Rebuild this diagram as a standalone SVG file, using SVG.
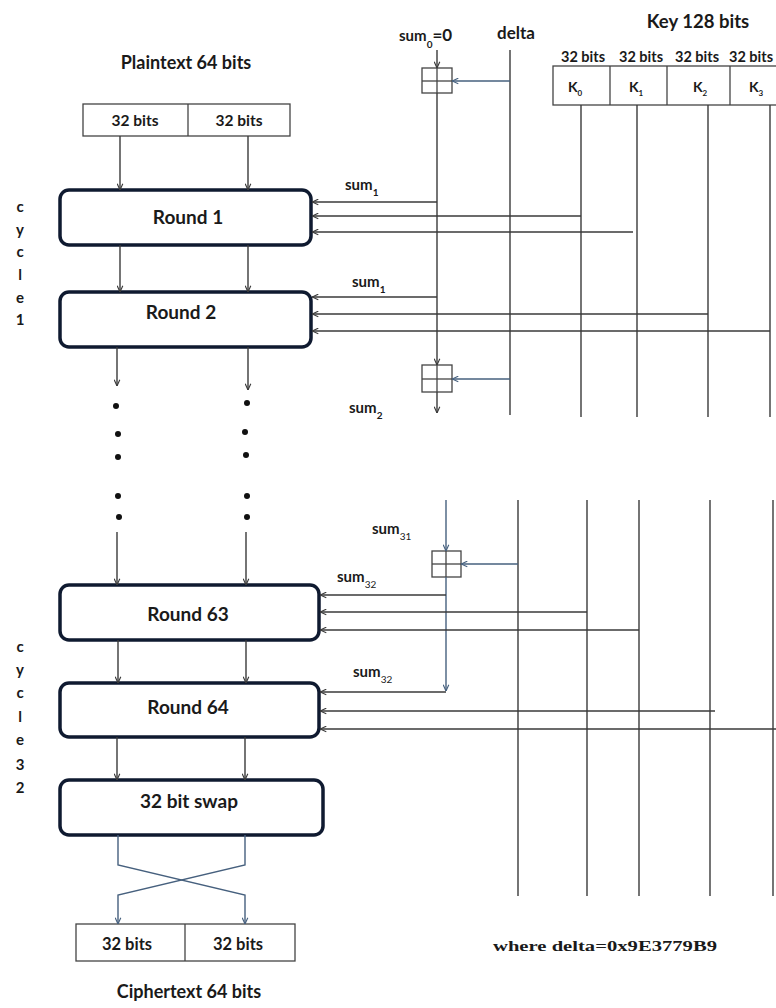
<svg xmlns="http://www.w3.org/2000/svg" width="776" height="1008" viewBox="0 0 776 1008">
<style>
.t{font-family:Lato,"Liberation Sans",sans-serif;font-weight:bold;fill:#1a1a1a}
.rt{font-size:19px}
.round{fill:#fff;stroke:#0f1a30;stroke-width:3.5}
.box{fill:#fff;stroke:#444;stroke-width:1.3}
.ln{fill:none;stroke:#3a3a3a;stroke-width:1.4}
.bl{fill:none;stroke:#46607e;stroke-width:1.4}
.dot{fill:#111}
</style>
<defs>
<marker id="ah" viewBox="0 0 10 10" refX="10" refY="5" markerWidth="7" markerHeight="7" orient="auto" markerUnits="userSpaceOnUse">
<path d="M1,1 L10,5 L1,9" fill="none" stroke="#3a3a3a" stroke-width="1.6"/>
</marker>
<marker id="ahb" viewBox="0 0 10 10" refX="10" refY="5" markerWidth="7" markerHeight="7" orient="auto" markerUnits="userSpaceOnUse">
<path d="M1,1 L10,5 L1,9" fill="none" stroke="#46607e" stroke-width="1.6"/>
</marker>
</defs>
<rect width="776" height="1008" fill="#fff"/>

<g id="plaintext">
<text class="t" x="186" y="69" font-size="18" text-anchor="middle">Plaintext 64 bits</text>
<rect class="box" x="83" y="104" width="207" height="32"/>
<line class="box" x1="188" y1="104" x2="188" y2="136"/>
<text class="t" x="135" y="126" font-size="15.5" text-anchor="middle">32 bits</text>
<text class="t" x="239" y="126" font-size="15.5" text-anchor="middle">32 bits</text>
</g>

<g id="cycle1">
<text class="t" font-size="15" text-anchor="middle">
<tspan x="20" y="212">c</tspan><tspan x="20" y="235">y</tspan><tspan x="20" y="257">c</tspan><tspan x="20" y="280">l</tspan><tspan x="20" y="303">e</tspan><tspan x="20" y="325">1</tspan>
</text>
</g>
<g id="cycle32">
<text class="t" font-size="15" text-anchor="middle">
<tspan x="20" y="652">c</tspan><tspan x="20" y="675">y</tspan><tspan x="20" y="698">c</tspan><tspan x="20" y="722">l</tspan><tspan x="20" y="745">e</tspan><tspan x="20" y="770">3</tspan><tspan x="20" y="793">2</tspan>
</text>
</g>

<g id="round1">
<rect class="round" x="60" y="190" width="251" height="55" rx="9"/>
<text class="t rt" x="188" y="224" text-anchor="middle">Round 1</text>
</g>
<g id="round2">
<rect class="round" x="60" y="292" width="251" height="55" rx="9"/>
<text class="t rt" x="181" y="319" text-anchor="middle">Round 2</text>
</g>
<g id="round63">
<rect class="round" x="60" y="585" width="259" height="55" rx="9"/>
<text class="t rt" x="188" y="621" text-anchor="middle">Round 63</text>
</g>
<g id="round64">
<rect class="round" x="60" y="683" width="259" height="54" rx="9"/>
<text class="t rt" x="188" y="714" text-anchor="middle">Round 64</text>
</g>
<g id="swap">
<rect class="round" x="60" y="780" width="263" height="55" rx="9"/>
<text class="t rt" x="189" y="808" text-anchor="middle">32 bit swap</text>
</g>

<g id="ciphertext">
<rect class="box" x="76" y="924" width="219" height="37"/>
<line class="box" x1="185" y1="924" x2="185" y2="961"/>
<text class="t" x="127" y="950" font-size="16.5" text-anchor="middle">32 bits</text>
<text class="t" x="238" y="950" font-size="16.5" text-anchor="middle">32 bits</text>
<text class="t" x="189" y="998" font-size="18" text-anchor="middle">Ciphertext 64 bits</text>
</g>

<g id="dots">
<circle class="dot" cx="116" cy="406" r="3"/><circle class="dot" cx="118" cy="434" r="3"/><circle class="dot" cx="118" cy="457" r="3"/><circle class="dot" cx="118" cy="496" r="3"/><circle class="dot" cx="119" cy="517" r="3"/>
<circle class="dot" cx="247" cy="403" r="3"/><circle class="dot" cx="245" cy="432" r="3"/><circle class="dot" cx="246" cy="455" r="3"/><circle class="dot" cx="247" cy="496" r="3"/><circle class="dot" cx="247" cy="517" r="3"/>
</g>

<g id="key">
<text class="t" x="698" y="28" font-size="18.5" text-anchor="middle">Key 128 bits</text>
<text class="t" font-size="14.5" text-anchor="middle"><tspan x="583" y="62">32 bits</tspan><tspan x="641" y="62">32 bits</tspan><tspan x="697" y="62">32 bits</tspan><tspan x="751" y="62">32 bits</tspan></text>
<rect class="box" x="553" y="66" width="230" height="39"/>
<line class="box" x1="610" y1="66" x2="610" y2="105"/>
<line class="box" x1="667" y1="66" x2="667" y2="105"/>
<line class="box" x1="730" y1="66" x2="730" y2="105"/>
<text class="t" font-size="14" text-anchor="middle"><tspan x="575" y="92">K</tspan><tspan font-size="8" dy="4">0</tspan></text>
<text class="t" font-size="14" text-anchor="middle"><tspan x="636" y="92">K</tspan><tspan font-size="8" dy="4">1</tspan></text>
<text class="t" font-size="14" text-anchor="middle"><tspan x="700" y="92">K</tspan><tspan font-size="8" dy="4">2</tspan></text>
<text class="t" font-size="14" text-anchor="middle"><tspan x="756" y="92">K</tspan><tspan font-size="8" dy="4">3</tspan></text>
</g>

<g id="adder1">
<rect class="box" x="422" y="68" width="30" height="25"/>
<line class="box" x1="422" y1="81" x2="452" y2="81"/>
<line class="box" x1="437" y1="68" x2="437" y2="93"/>
</g>
<g id="adder2">
<rect class="box" x="422" y="365" width="30" height="27"/>
<line class="box" x1="422" y1="379" x2="452" y2="379"/>
<line class="box" x1="437" y1="365" x2="437" y2="392"/>
</g>
<g id="adder3">
<rect class="box" x="432" y="551" width="29" height="26"/>
<line class="box" x1="432" y1="564" x2="461" y2="564"/>
<line class="box" x1="446" y1="551" x2="446" y2="577"/>
</g>

<g id="labels">
<text class="t" font-size="15" x="399" y="41">sum<tspan font-size="10" dy="7">0</tspan><tspan font-size="17" dy="-7">=0</tspan></text>
<text class="t" font-size="17" x="497" y="39">delta</text>
<text class="t" font-size="15" x="345" y="190">sum<tspan font-size="10" dy="6">1</tspan></text>
<text class="t" font-size="15" x="352" y="287">sum<tspan font-size="10" dy="6">1</tspan></text>
<text class="t" font-size="15" x="349" y="413">sum<tspan font-size="10" dy="6">2</tspan></text>
<text class="t" font-size="15" x="372" y="534">sum<tspan font-size="10" dy="6" font-weight="normal">31</tspan></text>
<text class="t" font-size="15" x="337" y="582">sum<tspan font-size="10" dy="6" font-weight="normal">32</tspan></text>
<text class="t" font-size="15" x="353" y="677">sum<tspan font-size="10" dy="6" font-weight="normal">32</tspan></text>
<text x="605" y="951" font-family="'Liberation Serif',serif" font-weight="bold" font-size="15" fill="#1a1a1a" text-anchor="middle" textLength="224" lengthAdjust="spacingAndGlyphs">where delta=0x9E3779B9</text>
</g>

<g id="connectors">
<line class="ln" x1="120" y1="136" x2="120" y2="190" marker-end="url(#ah)"/>
<line class="ln" x1="248" y1="136" x2="248" y2="190" marker-end="url(#ah)"/>
<line class="ln" x1="120" y1="245" x2="120" y2="292" marker-end="url(#ah)"/>
<line class="ln" x1="248" y1="245" x2="248" y2="292" marker-end="url(#ah)"/>
<line class="ln" x1="117" y1="347" x2="117" y2="386" marker-end="url(#ah)"/>
<line class="ln" x1="248" y1="347" x2="248" y2="390" marker-end="url(#ah)"/>
<line class="ln" x1="117" y1="532" x2="117" y2="585" marker-end="url(#ah)"/>
<line class="ln" x1="246" y1="532" x2="246" y2="585" marker-end="url(#ah)"/>
<line class="ln" x1="118" y1="640" x2="118" y2="683" marker-end="url(#ah)"/>
<line class="ln" x1="246" y1="640" x2="246" y2="683" marker-end="url(#ah)"/>
<line class="ln" x1="117" y1="737" x2="117" y2="780" marker-end="url(#ah)"/>
<line class="ln" x1="245" y1="737" x2="245" y2="780" marker-end="url(#ah)"/>
<path class="bl" d="M118,835 V865 L245,895 V924" marker-end="url(#ahb)"/>
<path class="bl" d="M245,835 V865 L118,895 V924" marker-end="url(#ahb)"/>

<line class="ln" x1="437" y1="50" x2="437" y2="68" marker-end="url(#ah)"/>
<line class="ln" x1="437" y1="93" x2="437" y2="365" marker-end="url(#ah)"/>
<line class="ln" x1="437" y1="392" x2="437" y2="413" marker-end="url(#ah)"/>
<line class="ln" x1="510" y1="50" x2="510" y2="415"/>
<line class="ln" x1="581" y1="105" x2="581" y2="417"/>
<line class="ln" x1="637" y1="105" x2="637" y2="417"/>
<line class="ln" x1="708" y1="105" x2="708" y2="417"/>
<line class="ln" x1="770" y1="105" x2="770" y2="417"/>
<line class="bl" x1="510" y1="81" x2="452" y2="81" marker-end="url(#ahb)"/>
<line class="bl" x1="510" y1="379" x2="452" y2="379" marker-end="url(#ahb)"/>
<line class="ln" x1="437" y1="202" x2="312" y2="202" marker-end="url(#ah)"/>
<line class="ln" x1="581" y1="216" x2="312" y2="216" marker-end="url(#ah)"/>
<line class="ln" x1="633" y1="232" x2="312" y2="232" marker-end="url(#ah)"/>
<line class="ln" x1="437" y1="297" x2="312" y2="297" marker-end="url(#ah)"/>
<line class="ln" x1="708" y1="314" x2="312" y2="314" marker-end="url(#ah)"/>
<line class="ln" x1="770" y1="331" x2="312" y2="331" marker-end="url(#ah)"/>

<line class="bl" x1="446" y1="500" x2="446" y2="551" marker-end="url(#ahb)"/>
<line class="bl" x1="446" y1="577" x2="446" y2="691" marker-end="url(#ahb)"/>
<line class="ln" x1="518" y1="500" x2="518" y2="896"/>
<line class="ln" x1="587" y1="500" x2="587" y2="896"/>
<line class="ln" x1="639" y1="500" x2="639" y2="896"/>
<line class="ln" x1="710" y1="500" x2="710" y2="896"/>
<line class="ln" x1="773" y1="500" x2="773" y2="896"/>
<line class="bl" x1="518" y1="564" x2="461" y2="564" marker-end="url(#ahb)"/>
<line class="ln" x1="446" y1="595" x2="320" y2="595" marker-end="url(#ah)"/>
<line class="ln" x1="587" y1="612" x2="320" y2="612" marker-end="url(#ah)"/>
<line class="ln" x1="639" y1="630" x2="320" y2="630" marker-end="url(#ah)"/>
<line class="ln" x1="446" y1="692" x2="320" y2="692" marker-end="url(#ah)"/>
<line class="ln" x1="715" y1="711" x2="320" y2="711" marker-end="url(#ah)"/>
<line class="ln" x1="776" y1="729" x2="320" y2="729" marker-end="url(#ah)"/>
</g>
</svg>
